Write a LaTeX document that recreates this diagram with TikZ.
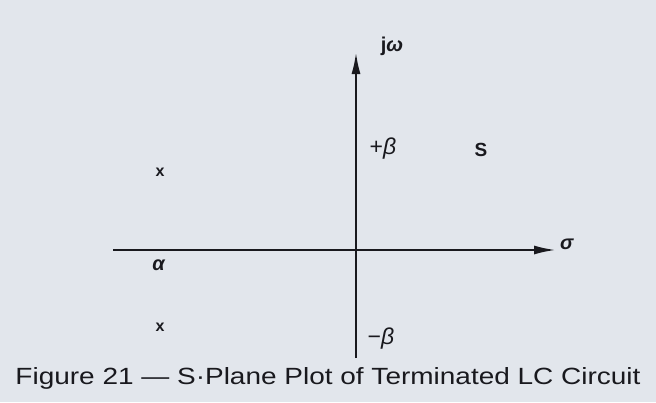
\documentclass[tikz,border=0pt]{standalone}
\usepackage{fontspec}
\setmainfont{Liberation Sans}
\usetikzlibrary{arrows.meta}
\definecolor{bg}{RGB}{226,230,236}
\definecolor{ink}{RGB}{25,25,30}
\begin{document}
\begin{tikzpicture}[x=1pt,y=-1pt,
  axis/.style={draw=ink,line width=2.3pt,-{Latex[length=22pt,width=9pt]}},
  lbl/.style={text=ink,inner sep=0pt,font=\fontsize{20}{20}\selectfont}]
\fill[bg] (0,0) rectangle (656,402);
\useasboundingbox (0,0) rectangle (656,402);
\coordinate (vb) at (356,358);
\coordinate (vt) at (356,52);
\coordinate (hl) at (113,250);
\coordinate (hr) at (556,250);
\draw[axis] (vb) -- (vt);
\draw[axis] (hl) -- (hr);
\node[lbl] (jw) at (392,46) {\textbf{j\textit{ω}}};
\node[lbl] (sig) at (567,244) {\textbf{\textit{σ}}};
\node[lbl,font=\fontsize{23}{23}\selectfont] (pb) at (383,149) {+\textit{β}};
\node[lbl,font=\fontsize{23}{23}\selectfont] (mb) at (381,339) {−\textit{β}};
\node[lbl,font=\fontsize{19}{19}\selectfont] (S) at (481,150) {\textbf{S}};
\node[lbl,font=\fontsize{16}{16}\selectfont] (x1) at (160,172) {\textbf{x}};
\node[lbl,font=\fontsize{16}{16}\selectfont] (x2) at (160,327) {\textbf{x}};
\node[lbl] (al) at (159,265) {\textbf{\textit{α}}};
\node[lbl,anchor=base] (cap) at (328,384) {\resizebox{625pt}{17pt}{Figure 21 — S·Plane Plot of Terminated LC Circuit}};
\end{tikzpicture}
\end{document}
